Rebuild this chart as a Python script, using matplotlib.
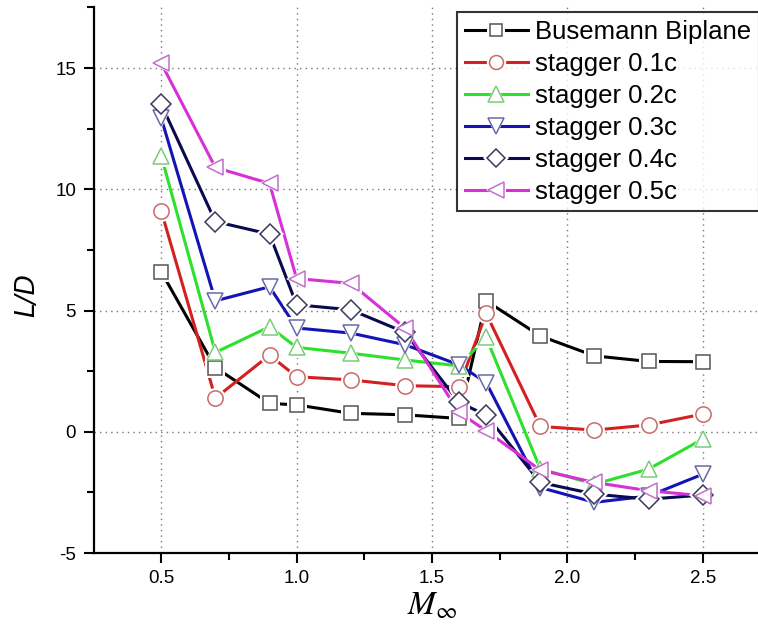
import matplotlib
matplotlib.use("Agg")
import matplotlib.pyplot as plt
from matplotlib.lines import Line2D
from matplotlib.legend_handler import HandlerTuple
from matplotlib import font_manager

plt.rcParams['font.family'] = ['Liberation Sans', 'DejaVu Sans']
plt.rcParams['mathtext.fontset'] = 'stix'
plt.rcParams['axes.unicode_minus'] = False

# Free-stream Mach numbers
mach = [0.5, 0.7, 0.9, 1.0, 1.2, 1.4, 1.6, 1.7, 1.9, 2.1, 2.3, 2.5]

# Lift-to-drag ratio for each configuration
busemann = [6.6, 2.65, 1.17, 1.11, 0.76, 0.70, 0.55, 5.4, 3.95, 3.13, 2.90, 2.89]
stagger_01 = [9.11, 1.39, 3.16, 2.27, 2.14, 1.90, 1.86, 4.88, 0.22, 0.07, 0.28, 0.73]
stagger_02 = [11.38, 3.27, 4.33, 3.48, 3.24, 2.96, 2.72, 3.89, -1.53, -2.16, -1.54, -0.30]
stagger_03 = [12.94, 5.40, 5.98, 4.28, 4.07, 3.59, 2.76, 2.03, -2.30, -2.91, -2.65, -1.75]
stagger_04 = [13.51, 8.67, 8.15, 5.24, 5.03, 4.10, 1.21, 0.69, -2.09, -2.57, -2.78, -2.61]
stagger_05 = [15.20, 10.90, 10.24, 6.32, 6.12, 4.28, 0.80, 0.04, -1.58, -2.09, -2.43, -2.64]

labels = ['Busemann Biplane', 'stagger 0.1c', 'stagger 0.2c',
          'stagger 0.3c', 'stagger 0.4c', 'stagger 0.5c']
series = [busemann, stagger_01, stagger_02, stagger_03, stagger_04, stagger_05]
line_colors = ['#000000', '#d42020', '#2ee02e', '#1414b4', '#0a0a50', '#d830d8']
edge_colors = ['#555555', '#c86a6a', '#7acc7a', '#6a6aa8', '#3a3a5a', '#c070c8']
markers = ['s', 'o', '^', 'v', 'D', '<']
msizes = [10, 11, 12, 12, 10, 12]

fig = plt.figure(figsize=(7.58, 6.29), dpi=100)
ax = fig.add_axes([0.1234, 0.1208, 0.893, 0.8674])

handles = []
for vals, lab, lc, ec, mk, ms in zip(series, labels, line_colors, edge_colors, markers, msizes):
    ax.plot(mach, vals, color=lc, lw=2.2, zorder=3, solid_capstyle='butt')
    # white halo that opens a small gap between the line and each marker
    ax.plot(mach, vals, ls='none', marker=mk, ms=ms + 4, mfc='white', mec='white',
            mew=0, zorder=4)
    ax.plot(mach, vals, ls='none', marker=mk, ms=ms, mfc='white', mec=ec,
            mew=1.1, zorder=5)
    h_line = Line2D([], [], color=lc, lw=2.2)
    h_halo = Line2D([], [], ls='none', marker=mk, ms=ms + 3, mfc='white', mec='white', mew=0)
    h_mark = Line2D([], [], ls='none', marker=mk, ms=ms - 1, mfc='white', mec=ec, mew=1.1)
    handles.append((h_line, h_halo, h_mark))

ax.set_xlim(0.25, 2.75)
ax.set_ylim(-5, 17.5)
ax.set_xticks([0.5, 1.0, 1.5, 2.0, 2.5])
ax.set_xticklabels(['0.5', '1.0', '1.5', '2.0', '2.5'])
ax.set_xticks([0.75, 1.25, 1.75, 2.25, 2.75], minor=True)
ax.set_yticks([-5, 0, 5, 10, 15])
ax.set_yticks([-2.5, 2.5, 7.5, 12.5, 17.5], minor=True)

ax.grid(True, which='major', color='#777777', ls=(0, (1, 3)), lw=1.0, zorder=1)
ax.spines['top'].set_visible(False)
ax.spines['right'].set_visible(False)
for s in ('left', 'bottom'):
    ax.spines[s].set_linewidth(1.6)
ax.tick_params(which='major', direction='out', length=7.5, width=1.5, labelsize=13.5, pad=5)
ax.tick_params(which='minor', direction='out', length=5, width=1.5)

ylab_font = font_manager.FontProperties(family='DejaVu Sans', style='oblique', size=19)
ax.set_ylabel('L/D', fontproperties=ylab_font)
ax.yaxis.set_label_coords(-0.078, 0.4725)
ax.set_xlabel(r'$M_\infty$', fontsize=24, labelpad=2)

leg = ax.legend(handles, labels, loc='upper left', bbox_to_anchor=(457 / 758, 1 - 12 / 629),
                bbox_transform=fig.transFigure, fontsize=18.5, frameon=True, fancybox=False,
                handlelength=2.45, handletextpad=0.28, labelspacing=0.31, borderpad=0.3,
                borderaxespad=0, handler_map={tuple: HandlerTuple(ndivide=1, pad=0)})
leg.get_frame().set_edgecolor('black')
leg.get_frame().set_linewidth(1.5)
leg.set_zorder(10)

fig.savefig('out.png', dpi=100)
